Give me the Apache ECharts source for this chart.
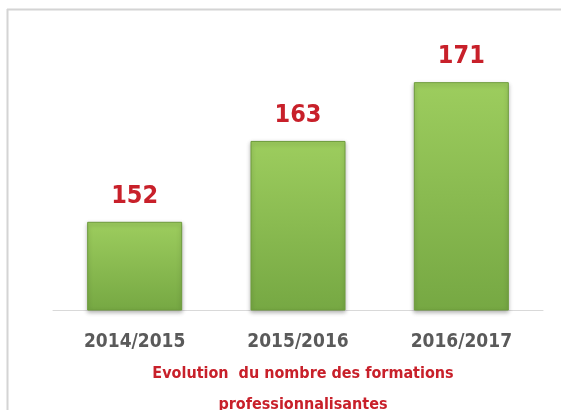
<!DOCTYPE html>
<html>
<head>
<meta charset="utf-8">
<script src="https://cdn.jsdelivr.net/npm/echarts@6/dist/echarts.min.js"></script>
<style>
  html, body { margin: 0; padding: 0; background: #fff; }
  #chart { width: 561px; height: 410px; }
</style>
</head>
<body>
<div id="chart"></div>
<script>
// données
var annees = ["2014/2015", "2015/2016", "2016/2017"];
var formations = [152, 163, 171];

var narrow = "'DejaVu Sans Condensed', 'Liberation Sans Narrow', sans-serif";

var chart = echarts.init(document.getElementById("chart"));
var option = {
  backgroundColor: "#fff",
  title: {
    text: "Evolution  du nombre des formations\nprofessionnalisantes",
    left: 298,
    top: 353,
    textAlign: "center",
    textStyle: {
      color: "#c8202a",
      fontFamily: narrow,
      fontWeight: "bold",
      fontSize: 16,
      lineHeight: 31
    }
  },
  grid: { left: 53, right: 18, top: 16, bottom: 100 },
  xAxis: {
    type: "category",
    data: annees,
    axisLine: { lineStyle: { color: "#d9d9d9", width: 1 } },
    axisTick: { show: false },
    axisLabel: {
      color: "#5a5a5a",
      fontFamily: narrow,
      fontWeight: "bold",
      fontSize: 19,
      margin: 23
    }
  },
  yAxis: {
    type: "value",
    min: 140,
    max: 180,
    show: false,
    splitLine: { show: false }
  },
  graphic: [
    // cadre gris en haut et à gauche
    { type: "line", shape: { x1: 7, y1: 9.5, x2: 561, y2: 9.5 }, style: { stroke: "#d4d4d4", lineWidth: 2 } },
    { type: "line", shape: { x1: 7.5, y1: 9, x2: 7.5, y2: 410 }, style: { stroke: "#d4d4d4", lineWidth: 2 } }
  ],
  series: [
    {
      type: "bar",
      data: formations,
      barWidth: 95,
      itemStyle: {
        color: new echarts.graphic.LinearGradient(0, 0, 0, 1, [
          { offset: 0, color: "#9dcd5e" },
          { offset: 1, color: "#76a843" }
        ]),
        borderColor: "#6e9c3d",
        borderWidth: 1,
        shadowColor: "rgba(0,0,0,0.3)",
        shadowBlur: 4,
        shadowOffsetY: 2
      },
      label: {
        show: true,
        position: "top",
        distance: 13,
        color: "#c8202a",
        fontFamily: narrow,
        fontWeight: "bold",
        fontSize: 25
      }
    }
  ]
};
chart.setOption(option);

window.addEventListener("resize", function() {
  chart.resize();
});
</script>
</body>
</html>
